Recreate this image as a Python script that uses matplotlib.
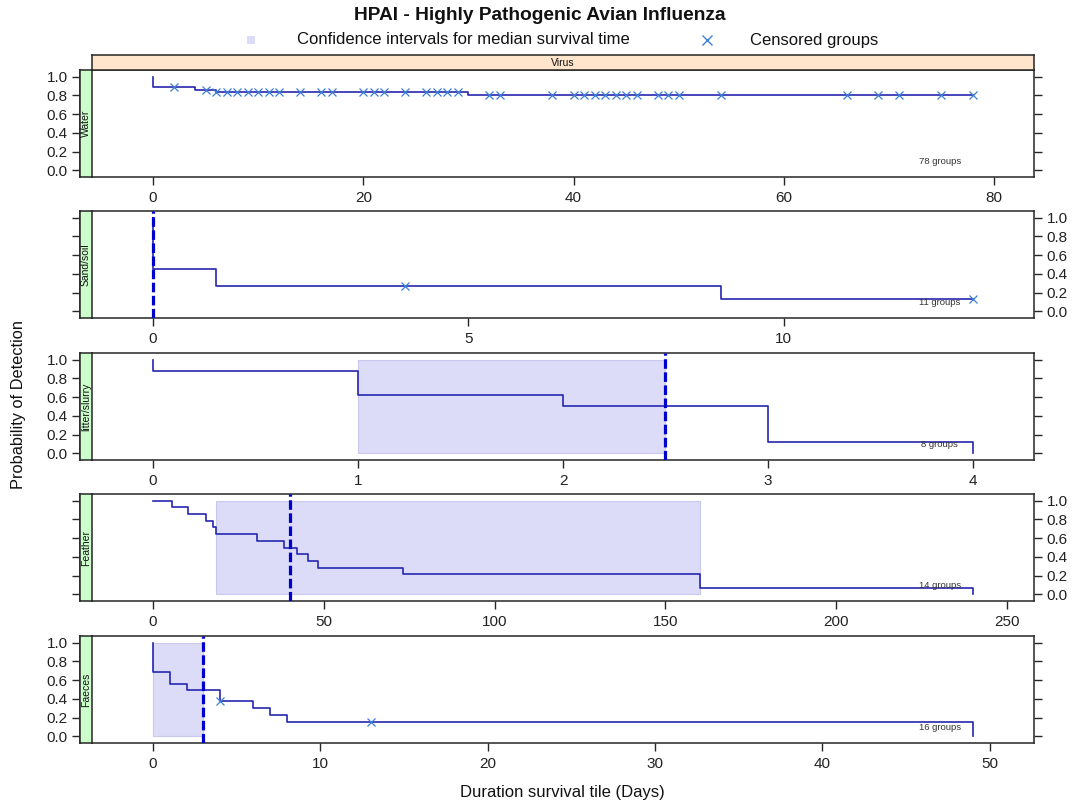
import matplotlib.pyplot as plt
import numpy as np
from matplotlib.patches import Rectangle
from matplotlib.lines import Line2D

plt.rcParams['font.family'] = ['Liberation Sans', 'DejaVu Sans']

# Kaplan-Meier curves: event times and survival after each event
panel_names = ['Water', 'Sand/soil', 'litter/slurry', 'Feather', 'Faeces']
n_groups = [78, 11, 8, 14, 16]

water_t = [0, 4, 6, 30]
water_s = [0.885, 0.862, 0.837, 0.800]
water_end = 78
water_cens = [2, 5, 6, 7, 8, 9, 10, 11, 12, 14, 16, 17, 20, 21, 22, 24, 26, 27, 28, 29,
              32, 33, 38, 40, 41, 42, 43, 44, 45, 46, 48, 49, 50, 54, 66, 69, 71, 75, 78]
water_median = None
water_ci = None

sand_t = [0, 1, 9]
sand_s = [0.455, 0.273, 0.136]
sand_end = 13
sand_cens = [4, 13]
sand_median = 0
sand_ci = None

litter_t = [0, 1, 2, 3, 4]
litter_s = [0.875, 0.625, 0.5, 0.125, 0.0]
litter_end = 4
litter_cens = []
litter_median = 2.5
litter_ci = (1, 2.5)

feather_t = [5.5, 10.3, 15.5, 17.6, 18.3, 30.3, 38.3, 42, 45.4, 48.2, 73.2, 160, 240]
feather_s = [0.929, 0.857, 0.786, 0.714, 0.643, 0.571, 0.5, 0.429, 0.357, 0.286, 0.214, 0.071, 0.0]
feather_end = 240
feather_cens = []
feather_median = 40.2
feather_ci = (18.3, 160)

faeces_t = [0, 1, 2, 4, 6, 7, 8, 49]
faeces_s = [0.6875, 0.5625, 0.5, 0.375, 0.3, 0.225, 0.15, 0.0]
faeces_end = 49
faeces_cens = [4, 13]
faeces_median = 3
faeces_ci = (0, 3)

x_ticks = [[0, 20, 40, 60, 80], [0, 5, 10], [0, 1, 2, 3, 4],
           [0, 50, 100, 150, 200, 250], [0, 10, 20, 30, 40, 50]]

panels = [
    (water_t, water_s, water_end, water_cens, water_median, water_ci),
    (sand_t, sand_s, sand_end, sand_cens, sand_median, sand_ci),
    (litter_t, litter_s, litter_end, litter_cens, litter_median, litter_ci),
    (feather_t, feather_s, feather_end, feather_cens, feather_median, feather_ci),
    (faeces_t, faeces_s, faeces_end, faeces_cens, faeces_median, faeces_ci),
]

line_col = '#2626b0'
cens_col = '#3d7fd6'
ci_col = '#dcdcf9'
med_col = '#0000cc'
frame_col = '#262626'

W, H = 1076, 805
fig = plt.figure(figsize=(W / 100, H / 100), dpi=100)

left_px, right_px = 92, 1034
strip_w = 12
tops = [70, 211, 353, 494, 636]
ph = 107

for i, (t, s, end, cens, med, ci) in enumerate(panels):
    top = tops[i]
    ax = fig.add_axes([left_px / W, 1 - (top + ph) / H, (right_px - left_px) / W, ph / H])

    pad = 0.0745 * end
    ax.set_xlim(-pad, end + pad)
    ax.set_ylim(-0.07, 1.07)

    if ci is not None:
        ax.add_patch(Rectangle((ci[0], 0), ci[1] - ci[0], 1.0, facecolor=ci_col,
                               edgecolor='#c9c9ee', lw=0.8, zorder=1))

    xs = [0] + list(t) + [end]
    ys = [1.0] + list(s) + [s[-1]]
    ax.plot(xs, ys, drawstyle='steps-post', color=line_col, lw=1.2, zorder=3)

    if cens:
        tt = np.array(t)
        cy = []
        for c in cens:
            k = np.searchsorted(tt, c, side='right') - 1
            cy.append(s[k] if k >= 0 else 1.0)
        ax.plot(cens, cy, ls='none', marker='x', ms=5.5, mew=0.9, color=cens_col, zorder=4)

    if med is not None:
        ax.axvline(med, color=med_col, lw=2.3, dashes=(3, 1.1), zorder=5)

    ax.text(0.90, 0.145, f'{n_groups[i]} groups', transform=ax.transAxes,
            fontsize=6.8, color='#333333', ha='center', va='center', zorder=6)

    ax.set_xticks(x_ticks[i])
    ax.set_yticks([0, 0.2, 0.4, 0.6, 0.8, 1.0])
    ax.set_yticklabels(['0.0', '0.2', '0.4', '0.6', '0.8', '1.0'])
    ax.tick_params(axis='x', direction='out', length=6, width=1, colors=frame_col,
                   labelsize=11, pad=4, labelcolor='#222222')
    label_left = (i % 2 == 0)
    ax.tick_params(axis='y', direction='out', length=6, width=1, colors=frame_col,
                   left=True, right=True, labelleft=label_left, labelright=not label_left,
                   labelsize=11, pad=3, labelcolor='#222222')
    # left axis sits outside the strip
    ax.spines['left'].set_position(('outward', strip_w * 0.72))
    for sp in ax.spines.values():
        sp.set_color(frame_col)
        sp.set_linewidth(1.1)

    # green strip on the left with the matrix name
    sax = fig.add_axes([(left_px - strip_w) / W, 1 - (top + ph) / H, strip_w / W, ph / H])
    sax.set_facecolor('#ccffcc')
    sax.set_xticks([])
    sax.set_yticks([])
    for sp in sax.spines.values():
        sp.set_color(frame_col)
        sp.set_linewidth(1.1)
    sax.text(0.5, 0.5, panel_names[i], rotation=90, ha='center', va='center',
             fontsize=7.5, color='#111111', transform=sax.transAxes)

# top strip
tax = fig.add_axes([left_px / W, 1 - 70 / H, (right_px - left_px) / W, 15 / H])
tax.set_facecolor('#ffe5cc')
tax.set_xticks([])
tax.set_yticks([])
for sp in tax.spines.values():
    sp.set_color(frame_col)
    sp.set_linewidth(1.1)
tax.text(0.5, 0.45, 'Virus', ha='center', va='center', fontsize=7.5, color='#111111',
         transform=tax.transAxes)

fig.text(0.502, 0.981, 'HPAI - Highly Pathogenic Avian Influenza', ha='center', va='center',
         fontsize=13.8, fontweight='bold', color='#111111')

# legend
fig.add_artist(Rectangle((247 / W, 1 - 44 / H), 8 / W, 8 / H, facecolor=ci_col,
                         edgecolor='none', transform=fig.transFigure))
fig.text(297 / W, 1 - 40 / H, 'Confidence intervals for median survival time',
         ha='left', va='center', fontsize=12, color='#111111')
fig.add_artist(Line2D([707 / W], [1 - 40 / H], marker='x', ms=7.5, mew=1.0, color=cens_col,
                      transform=fig.transFigure))
fig.text(750 / W, 1 - 40 / H, 'Censored groups', ha='left', va='center',
         fontsize=12, color='#111111')

fig.text(0.017, 0.497, 'Probability of Detection', rotation=90, ha='center', va='center',
         fontsize=11.8, color='#111111')
fig.text(0.523, 0.016, 'Duration survival tile (Days)', ha='center', va='center',
         fontsize=12, color='#111111')

fig.savefig('out.png', dpi=100)
